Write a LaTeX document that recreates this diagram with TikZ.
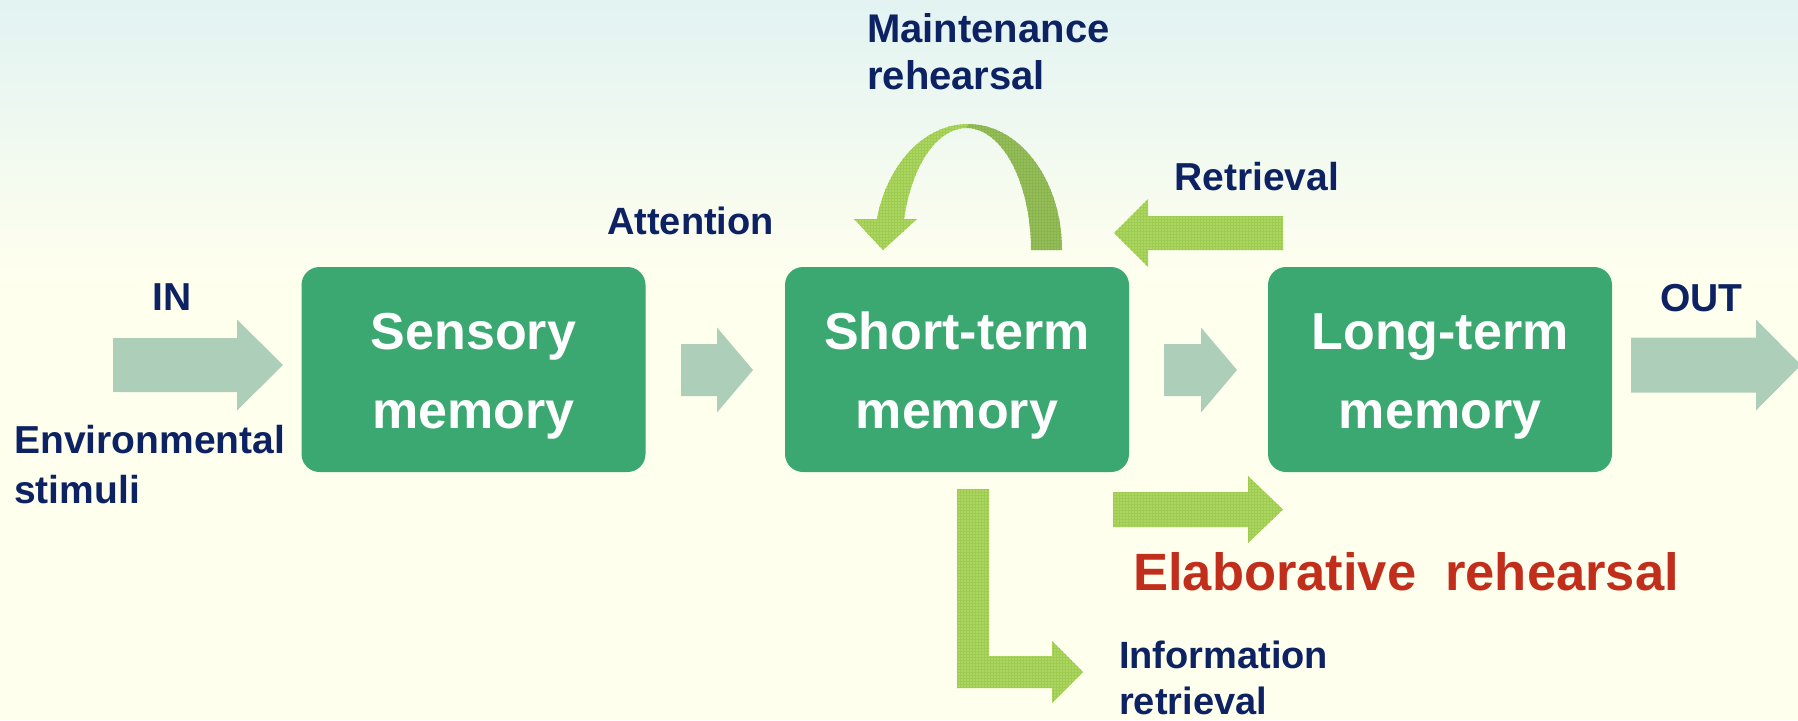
\documentclass[tikz,border=0pt]{standalone}
\usepackage{fontspec}
\setmainfont{Liberation Sans}
\usetikzlibrary{calc,patterns}
\definecolor{boxgreen}{RGB}{58,168,112}
\definecolor{paleg}{RGB}{173,207,186}
\definecolor{limeg}{RGB}{172,214,96}
\definecolor{limegrid}{RGB}{158,204,82}
\definecolor{limed}{RGB}{150,190,88}
\definecolor{limedgrid}{RGB}{138,180,80}
\definecolor{navy}{RGB}{12,34,98}
\definecolor{redt}{RGB}{194,46,28}
\definecolor{cream}{RGB}{255,255,238}
\definecolor{skyc}{RGB}{226,243,242}
\newcommand{\blockarr}[7]{%
  \fill[#1] (#2,#5-#6) -- (#3,#5-#6) -- (#3,#5-#7) -- (#4,#5) -- (#3,#5+#7) -- (#3,#5+#6) -- (#2,#5+#6) -- cycle;}
\begin{document}
\begin{tikzpicture}[x=1pt,y=-1pt,
  membox/.style={fill=boxgreen, rounded corners=18pt, minimum width=344pt, minimum height=205pt, inner sep=0pt},
  boxtxt/.style={text=white, font=\fontsize{52}{60}\selectfont\bfseries, anchor=base, inner sep=0pt},
  lbl/.style={text=navy, font=\fontsize{39}{45}\selectfont\bfseries, anchor=base west, inner sep=0pt},
  flowarrow/.style={fill=paleg},
  limearrow/.style={preaction={fill=limeg}, pattern=grid, pattern color=limegrid},
  limedark/.style={preaction={fill=limed}, pattern=grid, pattern color=limedgrid},
  ]
\useasboundingbox (0,0) rectangle (1798,720);
\fill[cream] (0,0) rectangle (1798,720);
\shade[top color=skyc, bottom color=cream] (0,0) rectangle (1798,280);

% memory boxes
\node[membox] (sm) at (473.5,369.5) {};
\node[membox] (stm) at (957,369.5) {};
\node[membox] (ltm) at (1440,369.5) {};
\node[boxtxt] (smt1) at ($(sm.center)+(0,-20.5)$) {Sensory};
\node[boxtxt] (smt2) at ($(sm.center)+(0,58.5)$) {memory};
\node[boxtxt] (stt1) at ($(stm.center)+(0,-20.5)$) {Short-term};
\node[boxtxt] (stt2) at ($(stm.center)+(0,58.5)$) {memory};
\node[boxtxt] (ltt1) at ($(ltm.center)+(0,-20.5)$) {Long-term};
\node[boxtxt] (ltt2) at ($(ltm.center)+(0,58.5)$) {memory};

% pale flow arrows
\blockarr{flowarrow}{113}{237}{283}{365}{27}{45.5}
\blockarr{flowarrow}{681}{717}{753}{370}{26}{42.5}
\blockarr{flowarrow}{1164}{1201}{1237}{370}{26}{42.5}
\blockarr{flowarrow}{1631}{1756}{1801}{365}{27.5}{45.5}

% lime arrows
\blockarr{limearrow}{1113}{1248}{1283}{509.5}{17.5}{33.5}
\blockarr{limearrow}{1283}{1148}{1114}{233}{17}{34}
\fill[limearrow] (957,489) -- (989,489) -- (989,656) -- (1052,656) -- (1052,641)
  -- (1083,672) -- (1052,703) -- (1052,688) -- (957,688) -- cycle;

% maintenance loop
\fill[limearrow] plot[domain=165.8:90, samples=40, variable=\t] ({968+94*cos(\t)},{250-126*sin(\t)})
  -- plot[domain=90:165.3, samples=40, variable=\t] ({966.5+64.5*cos(\t)},{250-122*sin(\t)}) -- cycle;
\fill[limedark] plot[domain=90:0, samples=40, variable=\t] ({968+94*cos(\t)},{250-126*sin(\t)})
  -- plot[domain=0:90, samples=40, variable=\t] ({966.5+64.5*cos(\t)},{250-122*sin(\t)}) -- cycle;
\fill[limearrow] (854,219) -- (917,219) -- (883,250) -- cycle;

% labels
\node[lbl] (in) at (152,310) {IN};
\node[lbl] (env1) at (14,453) {Environmental};
\node[lbl] (env2) at (14,503) {stimuli};
\node[lbl, font=\fontsize{38}{45}\selectfont\bfseries] (att) at (607,234) {Attention};
\node[lbl, font=\fontsize{40}{45}\selectfont\bfseries] (mr1) at (867,42) {Maintenance};
\node[lbl, font=\fontsize{40}{45}\selectfont\bfseries] (mr2) at (867,89) {rehearsal};
\node[lbl] (ret) at (1174,190) {Retrieval};
\node[lbl] (out) at (1660,311) {OUT};
\node[lbl, text=redt, font=\fontsize{52.5}{60}\selectfont\bfseries] (elab) at (1133,590) {Elaborative\ \ rehearsal};
\node[lbl, font=\fontsize{38}{45}\selectfont\bfseries] (inf1) at (1119,668) {Information};
\node[lbl, font=\fontsize{38}{45}\selectfont\bfseries] (inf2) at (1119,714) {retrieval};
\end{tikzpicture}
\end{document}
